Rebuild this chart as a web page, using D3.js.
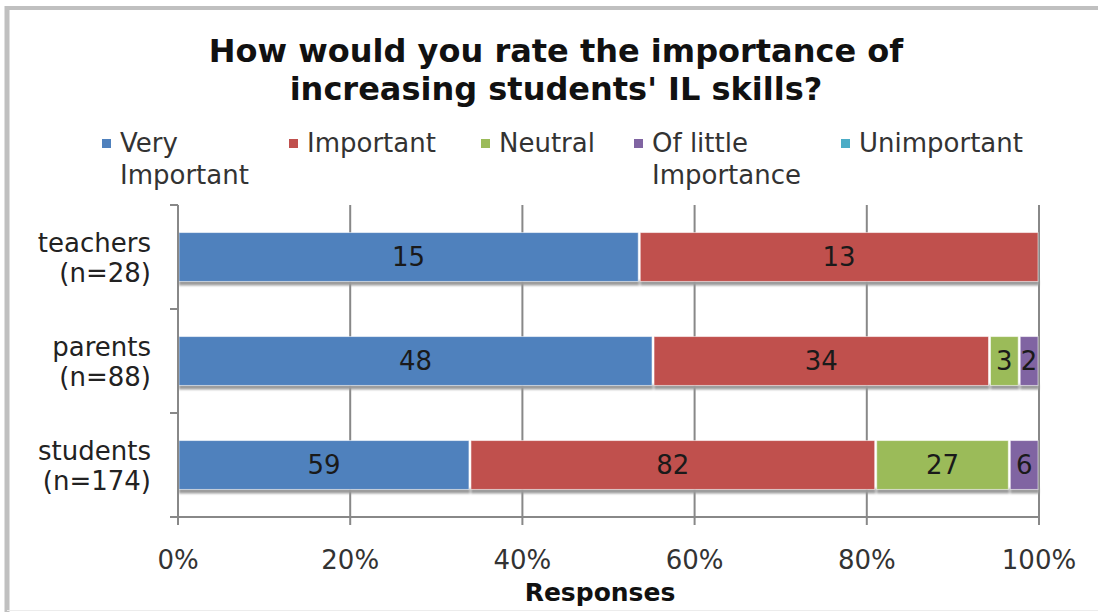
<!DOCTYPE html>
<html>
<head>
<meta charset="utf-8">
<script src="https://cdn.jsdelivr.net/npm/d3@7"></script>
<style>
  html, body { margin: 0; padding: 0; background: #fff; }
  svg { display: block; }
  text { font-family: "DejaVu Sans", Verdana, sans-serif; }
</style>
</head>
<body>
<svg id="chart" width="1098" height="612"></svg>
<script>
// Survey groups (top to bottom) and their response counts per rating
const groups = ["teachers", "parents", "students"];
const groupSizes = ["(n=28)", "(n=88)", "(n=174)"];
const ratings = ["Very Important", "Important", "Neutral", "Of little Importance", "Unimportant"];
const legendLines = [["Very", "Important"], ["Important"], ["Neutral"], ["Of little", "Importance"], ["Unimportant"]];
const veryImportant = [15, 48, 59];
const important = [13, 34, 82];
const neutral = [0, 3, 27];
const ofLittleImportance = [0, 2, 6];
const unimportant = [0, 0, 0];
const tickValues = [0, 0.2, 0.4, 0.6, 0.8, 1.0];
const tickLabels = ["0%", "20%", "40%", "60%", "80%", "100%"];
const colors = ["#4f81bd", "#c0504d", "#9bbb59", "#8064a2", "#4bacc6"];

const series = [veryImportant, important, neutral, ofLittleImportance, unimportant];
const rows = groups.map((g, i) => {
  const r = { group: g };
  ratings.forEach((k, j) => { r[k] = series[j][i]; });
  return r;
});

const svg = d3.select("#chart");

// shadow blur for bar drop shadows
const defs = svg.append("defs");
defs.append("filter").attr("id", "soft").attr("x", "-5%").attr("y", "-50%").attr("width", "110%").attr("height", "200%")
  .append("feGaussianBlur").attr("stdDeviation", 1.2);

// outer frame
svg.append("line").attr("x1", 7).attr("x2", 1098).attr("y1", 8).attr("y2", 8)
  .attr("stroke", "#c0c0c0").attr("stroke-width", 4);
svg.append("line").attr("x1", 7).attr("x2", 7).attr("y1", 6).attr("y2", 612)
  .attr("stroke", "#c0c0c0").attr("stroke-width", 5);
svg.append("line").attr("x1", 7).attr("x2", 1098).attr("y1", 610.5).attr("y2", 610.5)
  .attr("stroke", "#ececec").attr("stroke-width", 1);

// title
const title = svg.append("text").attr("text-anchor", "middle").attr("font-weight", "bold")
  .attr("font-size", 32).attr("fill", "#111");
title.append("tspan").attr("x", 556).attr("y", 62).text("How would you rate the importance of");
title.append("tspan").attr("x", 556).attr("y", 100).text("increasing students' IL skills?");

// legend
const legendX = [102, 289, 481, 634, 841];
legendLines.forEach((lines, i) => {
  const g = svg.append("g");
  g.append("rect").attr("x", legendX[i]).attr("y", 139).attr("width", 9).attr("height", 9)
    .attr("fill", colors[i]);
  const t = g.append("text").attr("font-size", 26).attr("fill", "#333");
  lines.forEach((ln, k) => {
    t.append("tspan").attr("x", legendX[i] + 18).attr("y", 152 + k * 32).text(ln);
  });
});

// plot area
const x0 = 178, x1 = 1039, yTop = 205, yBot = 517;
const x = d3.scaleLinear().domain([0, 1]).range([x0, x1]);
const y = d3.scaleBand().domain(groups).range([yTop, yBot]).paddingInner(0.53).paddingOuter(0.265);

// vertical gridlines
svg.append("g").selectAll("line").data(tickValues.slice(1)).join("line")
  .attr("x1", d => x(d)).attr("x2", d => x(d))
  .attr("y1", yTop).attr("y2", yBot + 8)
  .attr("stroke", "#888888").attr("stroke-width", 2);

// stacked bars, normalised to 100%
const stack = d3.stack().keys(ratings).offset(d3.stackOffsetExpand);
const layers = stack(rows);

// drop shadows under each bar
const shadowG = svg.append("g").attr("filter", "url(#soft)");
layers.forEach(layer => {
  shadowG.selectAll(null).data(layer.filter(d => d[1] > d[0])).join("rect")
    .attr("x", d => x(d[0]) + 1).attr("width", d => x(d[1]) - x(d[0]) - 1)
    .attr("y", d => y(d.data.group) + y.bandwidth() - 1).attr("height", 5)
    .attr("fill", "#9a9a9a");
});

const barG = svg.append("g");
layers.forEach((layer, li) => {
  const segs = layer.filter(d => d[1] > d[0]);
  barG.selectAll(null).data(segs).join("rect")
    .attr("x", d => x(d[0]) + 1).attr("width", d => Math.max(0, x(d[1]) - x(d[0]) - 2))
    .attr("y", d => y(d.data.group)).attr("height", y.bandwidth())
    .attr("fill", colors[li])
    .attr("stroke", "#ffffff").attr("stroke-opacity", 0.55).attr("stroke-width", 1);
  barG.selectAll(null).data(segs).join("text")
    .attr("x", d => (x(d[0]) + x(d[1])) / 2)
    .attr("y", d => y(d.data.group) + y.bandwidth() / 2 + 9)
    .attr("text-anchor", "middle").attr("font-size", 26).attr("fill", "#1a1a1a")
    .text(d => d.data[layer.key]);
});

// axes lines
svg.append("line").attr("x1", x0).attr("x2", x0).attr("y1", yTop).attr("y2", yBot + 8)
  .attr("stroke", "#888888").attr("stroke-width", 2);
svg.append("line").attr("x1", x0 - 8).attr("x2", x1).attr("y1", yBot).attr("y2", yBot)
  .attr("stroke", "#888888").attr("stroke-width", 2);

// category boundary ticks on the left axis
const step = y.step();
const bounds = groups.map(g => y(g) - (step - y.bandwidth()) / 2).concat([yBot]);
svg.append("g").selectAll("line").data(bounds).join("line")
  .attr("x1", x0 - 8).attr("x2", x0).attr("y1", d => d).attr("y2", d => d)
  .attr("stroke", "#888888").attr("stroke-width", 2);

// category labels
groups.forEach((g, i) => {
  const t = svg.append("text").attr("text-anchor", "end").attr("font-size", 26).attr("fill", "#222");
  const cy = y(g) + y.bandwidth() / 2;
  t.append("tspan").attr("x", 151).attr("y", cy - 5).text(g);
  t.append("tspan").attr("x", 151).attr("y", cy + 25).text(groupSizes[i]);
});

// x tick labels
svg.append("g").selectAll("text").data(tickValues).join("text")
  .attr("x", d => x(d)).attr("y", 569)
  .attr("text-anchor", "middle").attr("font-size", 26).attr("fill", "#333")
  .text((d, i) => tickLabels[i]);

// x axis title
svg.append("text").attr("x", 600).attr("y", 601).attr("text-anchor", "middle")
  .attr("font-size", 25).attr("font-weight", "bold").attr("fill", "#111").text("Responses");
</script>
</body>
</html>
